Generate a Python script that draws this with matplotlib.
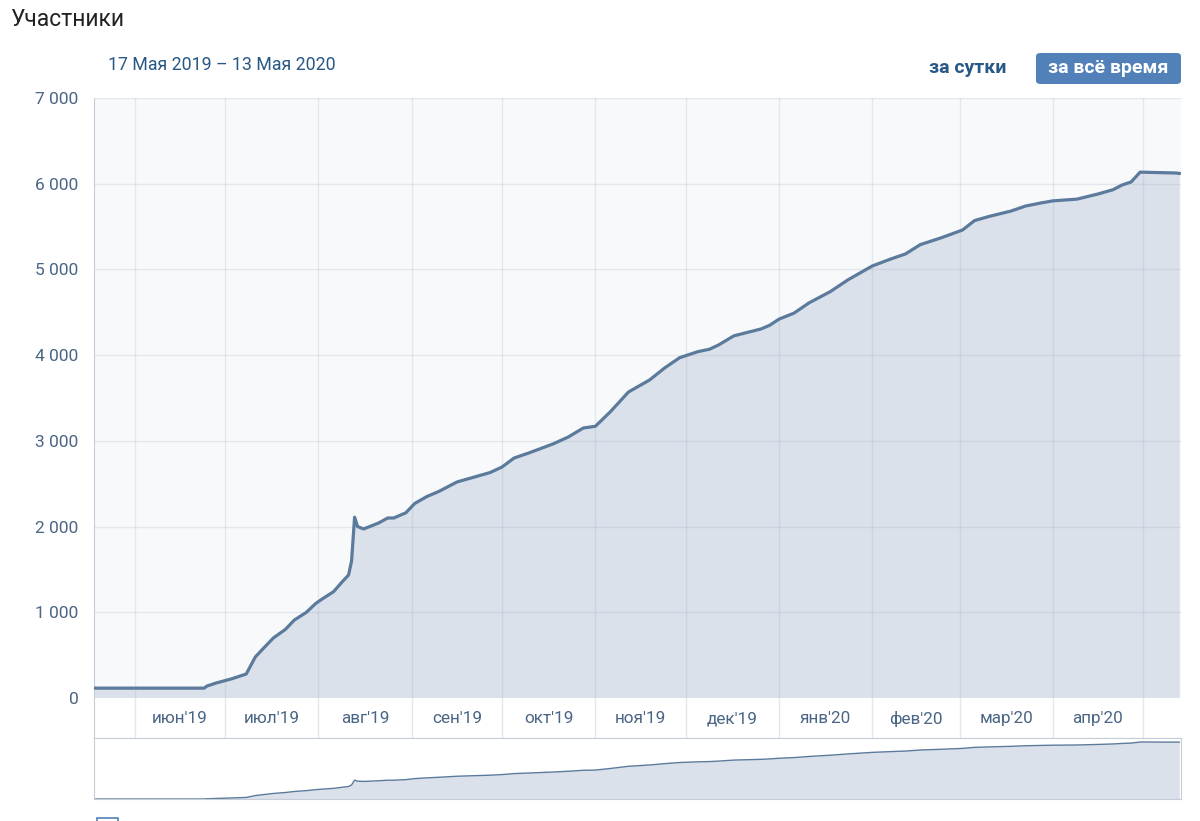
import matplotlib
matplotlib.use("Agg")
import matplotlib.pyplot as plt
import matplotlib.dates as mdates
from matplotlib.patches import FancyBboxPatch, Rectangle
import numpy as np
import pandas as pd

plt.rcParams['font.family'] = ['Roboto', 'DejaVu Sans']

# participants count
dates = ["2019-05-17", "2019-06-24", "2019-06-25", "2019-06-28", "2019-07-03", "2019-07-08",
         "2019-07-11", "2019-07-14", "2019-07-17", "2019-07-21", "2019-07-24", "2019-07-28",
         "2019-07-31", "2019-08-02", "2019-08-06", "2019-08-09", "2019-08-11",
         "2019-08-12", "2019-08-13", "2019-08-14", "2019-08-16", "2019-08-21", "2019-08-24",
         "2019-08-26", "2019-08-30", "2019-09-02", "2019-09-06", "2019-09-10", "2019-09-16",
         "2019-09-23", "2019-09-27",
         "2019-10-01", "2019-10-05", "2019-10-10", "2019-10-18", "2019-10-23", "2019-10-28",
         "2019-11-01", "2019-11-06", "2019-11-12", "2019-11-19", "2019-11-24", "2019-11-29",
         "2019-12-05", "2019-12-09", "2019-12-12", "2019-12-17", "2019-12-26", "2019-12-29",
         "2020-01-01", "2020-01-06", "2020-01-11", "2020-01-18", "2020-01-24", "2020-02-01",
         "2020-02-07", "2020-02-12", "2020-02-17", "2020-02-24", "2020-03-02", "2020-03-06",
         "2020-03-11", "2020-03-18", "2020-03-23", "2020-03-28", "2020-04-01", "2020-04-09",
         "2020-04-16", "2020-04-21", "2020-04-24", "2020-04-27", "2020-04-30", "2020-05-12",
         "2020-05-13"]
members = [115, 115, 140, 175, 222, 280,
           478, 590, 700, 800, 910, 1000,
           1100, 1150, 1240, 1360, 1435,
           1600, 2110, 2000, 1972, 2042, 2100,
           2100, 2160, 2270, 2350, 2410, 2520,
           2590, 2630,
           2695, 2800, 2860, 2965, 3045, 3150,
           3170, 3340, 3570, 3710, 3850, 3970,
           4040, 4070, 4120, 4225, 4305, 4350,
           4420, 4490, 4610, 4740, 4880, 5040,
           5120, 5180, 5290, 5370, 5460, 5570,
           5620, 5680, 5740, 5775, 5800, 5820,
           5880, 5930, 5985, 6020, 6135, 6125,
           6120]
month_starts = ["2019-06-01", "2019-07-01", "2019-08-01", "2019-09-01", "2019-10-01",
                "2019-11-01", "2019-12-01", "2020-01-01", "2020-02-01", "2020-03-01",
                "2020-04-01", "2020-05-01"]
month_labels = ["июн'19", "июл'19", "авг'19", "сен'19", "окт'19", "ноя'19",
                "дек'19", "янв'20", "фев'20", "мар'20", "апр'20"]
yticks = [0, 1000, 2000, 3000, 4000, 5000, 6000, 7000]

x = pd.to_datetime(dates)
months = pd.to_datetime(month_starts)
xlim = (pd.Timestamp("2019-05-18 10:00"), pd.Timestamp("2020-05-13 14:00"))

line_c = '#5b7a9c'
fill_c = '#dae1ea'
grid_c = '#e4e8ee'
text_c = '#4a6585'
border_c = '#c6cdd7'

fig = plt.figure(figsize=(12, 8.21), dpi=100)
W, H = 1200, 821

def box(l, t, r, b):
    return [l / W, 1 - b / H, (r - l) / W, (b - t) / H]

# main chart
ax = fig.add_axes(box(94, 98, 1181, 698))
ax.set_facecolor('#f8f9fb')
ax.fill_between(x, 0, members, color=fill_c, zorder=1, lw=0)
for m in months:
    ax.axvline(m, color=(0.55, 0.6, 0.68, 0.18), lw=1, zorder=2)
for v in yticks[1:]:
    ax.axhline(v, color=(0.55, 0.6, 0.68, 0.18), lw=1, zorder=2)
ax.plot(x, members, color=line_c, lw=2.3, zorder=3, solid_joinstyle='round')
ax.set_xlim(xlim)
ax.set_ylim(0, 7000)
ax.set_yticks(yticks)
ax.set_yticklabels([f"{v:,}".replace(",", " ") for v in yticks])
ax.tick_params(axis='y', length=0, pad=11, labelsize=12.5, labelcolor=text_c)
ax.set_xticks([])
for s in ['top', 'right', 'bottom']:
    ax.spines[s].set_visible(False)
ax.spines['left'].set_color(border_c)

# month label band
band = fig.add_axes(box(94, 698, 1181, 738))
band.set_facecolor('white')
band.set_xlim(xlim)
band.set_ylim(0, 1)
for m in months:
    band.axvline(m, color=grid_c, lw=1)
for i, lab in enumerate(month_labels):
    mid = months[i] + (months[i + 1] - months[i]) / 2
    band.text(mid, 0.48, lab, ha='center', va='center', fontsize=12.3, color=text_c)
band.set_xticks([])
band.set_yticks([])
for s in ['top', 'right']:
    band.spines[s].set_visible(False)
band.spines['left'].set_color(border_c)
band.spines['bottom'].set_color(border_c)

# navigator
nav = fig.add_axes(box(94, 738, 1181, 799))
nav.set_facecolor('white')
nav.fill_between(x, 0, members, color=fill_c, lw=0)
nav.plot(x, members, color=line_c, lw=1)
nav.set_xlim(xlim)
nav.set_ylim(115, 6560)
nav.set_xticks([])
nav.set_yticks([])
for s in nav.spines.values():
    s.set_color(border_c)

# header texts
fig.text(10 / W, 1 - 20 / H, "Участники", fontsize=16.5, color='#222222', va='center', ha='left')
fig.text(108 / W, 1 - 65 / H, "17 Мая 2019 – 13 Мая 2020", fontsize=12.8, color='#2a5885',
         va='center', ha='left')
fig.text(968 / W, 1 - 68 / H, "за сутки", fontsize=14, color='#2a5885', fontweight='bold',
         va='center', ha='center')
btn = FancyBboxPatch((1036 / W, 1 - 84 / H), 145 / W, 31 / H,
                     boxstyle="round,pad=0,rounding_size=0.004", transform=fig.transFigure,
                     facecolor='#5181b8', edgecolor='none')
fig.patches.append(btn)
fig.text(1108 / W, 1 - 68 / H, "за всё время", fontsize=14, color='white', fontweight='bold',
         va='center', ha='center')

# checkbox cut off at the bottom
fig.patches.append(Rectangle((97 / W, 1 - 830 / H), 21 / W, 12 / H, transform=fig.transFigure,
                             facecolor='none', edgecolor='#5181b8', lw=1.2))

fig.savefig("out.png", dpi=100)
